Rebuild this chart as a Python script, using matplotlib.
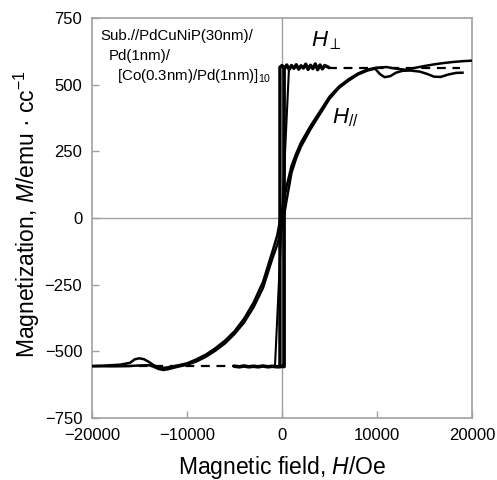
import matplotlib
matplotlib.use("Agg")
import matplotlib.pyplot as plt

plt.rcParams['font.family'] = ['Liberation Sans', 'DejaVu Sans']
plt.rcParams['mathtext.fontset'] = 'custom'
plt.rcParams['mathtext.rm'] = 'Liberation Sans'
plt.rcParams['mathtext.it'] = 'Liberation Sans:italic'

# in-plane loop (H//), two branches
par_a_H = [-20000, -18500, -17000, -16000, -15500, -15000, -14500, -14000, -13500, -13000,
           -12500, -12000, -11000, -10000, -9000, -8000, -7000, -6000, -5000, -4000, -3000,
           -2000, -1000, -500, 0, 500, 1000, 1500, 2000, 3000, 4000, 5000, 6000, 7000, 8000,
           9000, 10000, 11000, 12000, 13000, 14000, 15000, 16000, 17000, 18000, 19000, 20000]
par_a_M = [-555, -553, -550, -543, -530, -526, -530, -540, -552, -560,
           -562, -560, -553, -545, -530, -512, -488, -460, -425, -378, -318,
           -240, -125, -65, 30, 120, 195, 242, 283, 345, 400, 455, 493, 520, 542,
           557, 564, 566, 560, 556, 563, 570, 576, 581, 585, 588, 590]

par_b_H = [-20000, -18500, -17000, -16000, -15000, -14000, -13500, -13000, -12500, -12000,
           -11000, -10000, -9000, -8000, -7000, -6000, -5000, -4000, -3000, -2000, -1000,
           -500, 0, 500, 1000, 1500, 2000, 3000, 4000, 5000, 6000, 7000, 8000, 9000, 9800,
           10300, 10800, 11400, 12000, 12700, 13500, 14500, 15300, 16000, 16700, 17500,
           18300, 19000]
par_b_M = [-556, -556, -556, -555, -553, -552, -558, -566, -570, -567,
           -558, -550, -538, -520, -497, -470, -435, -392, -335, -262, -150,
           -100, -35, 70, 170, 225, 268, 333, 390, 447, 488, 515, 538, 553, 560,
           540, 528, 532, 545, 552, 553, 549, 540, 530, 529, 538,
           544, 545]

# perpendicular loop (H_perp)
perp_up_H = [-4950, -4500, -4000, -3500, -3000, -2500, -2000, -1500, -1000, -500, 0, 220, 220]
perp_up_M = [-556, -558, -555, -558, -556, -558, -555, -558, -556, -558, -556, -557, 566]
perp_down_H = [4850, 4500, 4250, 4000, 3750, 3500, 3250, 3000, 2750, 2500, 2250, 2000,
               1750, 1500, 1250, 1000, 750, 500, 250, 0, -220, -220]
perp_down_M = [566, 572, 559, 574, 556, 578, 560, 573, 557, 577, 562, 571,
               558, 575, 561, 572, 557, 574, 560, 572, 565, -557]
perp_slant_H = [740, -740]
perp_slant_M = [565, -557]

# saturation guides
sat_pos_H = [4850, 18750]
sat_pos_M = [562, 562]
sat_neg_H = [-20000, -4950]
sat_neg_M = [-556, -556]

x_ticks = [-20000, -10000, 0, 10000, 20000]
y_ticks = [-750, -500, -250, 0, 250, 500, 750]

fig = plt.figure(figsize=(4.97, 4.8), dpi=100)
ax = fig.add_axes([92 / 497, 62 / 480, 380 / 497, 400 / 480])

frame = '#a0a0a0'
ax.axhline(0, color=frame, lw=1.0, zorder=1)
ax.axvline(0, color=frame, lw=1.0, zorder=1)

ax.plot(sat_pos_H, sat_pos_M, color='black', lw=1.6, dashes=(4, 3), zorder=2)
ax.plot(sat_neg_H, sat_neg_M, color='black', lw=1.6, dashes=(4, 3), zorder=2)

ax.plot(par_a_H, par_a_M, color='black', lw=1.8, zorder=3)
ax.plot(par_b_H, par_b_M, color='black', lw=1.8, zorder=3)

ax.plot(perp_up_H, perp_up_M, color='black', lw=2.6, zorder=3)
ax.plot(perp_down_H, perp_down_M, color='black', lw=2.4, zorder=3)
ax.plot(perp_slant_H, perp_slant_M, color='black', lw=1.5, zorder=3)

ax.set_xlim(-20000, 20000)
ax.set_ylim(-750, 750)
ax.set_xticks(x_ticks)
ax.set_yticks(y_ticks)
ax.tick_params(direction='in', length=5, width=1, color=frame, labelsize=12)
ax.tick_params(axis='x', pad=7)
ax.tick_params(axis='y', pad=7)
for s in ax.spines.values():
    s.set_color(frame)
    s.set_linewidth(1.2)

ax.set_xlabel('Magnetic field, $\\mathit{H}$/Oe', fontsize=16.5)
ax.set_ylabel('Magnetization, $\\mathit{M}$/emu \u00b7 cc$^{-1}$', fontsize=16.5)
ax.xaxis.set_label_coords(0.5, -0.09)
ax.yaxis.set_label_coords(-0.132, 0.51)

ax.text(0.023, 0.955, 'Sub.//PdCuNiP(30nm)/', transform=ax.transAxes,
        fontsize=10.8, va='center', ha='left')
ax.text(0.045, 0.905, 'Pd(1nm)/', transform=ax.transAxes,
        fontsize=10.8, va='center', ha='left')
ax.text(0.067, 0.855, '[Co(0.3nm)/Pd(1nm)]$_{10}$', transform=ax.transAxes,
        fontsize=10.8, va='center', ha='left')

ax.text(3100, 665, '$\\mathit{H}_{\\perp}$', fontsize=16, va='center', ha='left')
ax.text(5300, 375, '$\\mathit{H}_{//}$', fontsize=16, va='center', ha='left')

fig.savefig('out.png', dpi=100)
